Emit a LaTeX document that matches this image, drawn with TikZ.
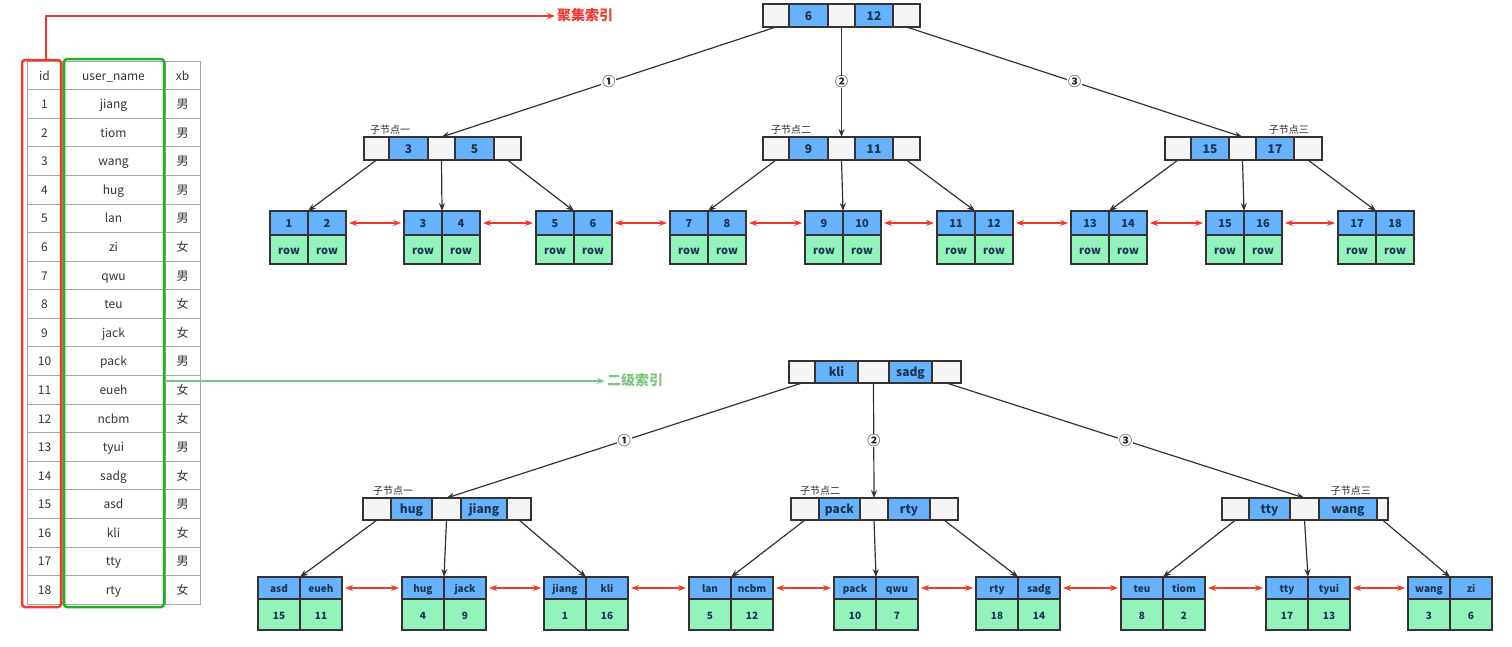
\documentclass[tikz,border=0pt]{standalone}
\usepackage{fontspec}
\setmainfont{Noto Sans CJK SC}
\usetikzlibrary{positioning,arrows.meta}

\definecolor{keyblue}{HTML}{66B2FF}
\definecolor{rowgreen}{HTML}{93F3BC}
\definecolor{gapgray}{HTML}{F5F5F5}
\definecolor{nodeline}{HTML}{333333}
\definecolor{cellink}{HTML}{1B3550}
\definecolor{clusred}{HTML}{EE3B2E}
\definecolor{secgreen}{HTML}{7CC77E}
\definecolor{framegreen}{HTML}{22B022}
\definecolor{tablegray}{HTML}{A6A6A6}

% inner node: name, pos, key1, key2, five cell widths
\newcommand\keynode[9]{%
  \node[gapcell,minimum width=#5,anchor=north west] (#1-a) at (#2) {};
  \node[keycell,minimum width=#6,right=0pt of #1-a] (#1-k1) {#3};
  \node[gapcell,minimum width=#7,right=0pt of #1-k1] (#1-b) {};
  \node[keycell,minimum width=#8,right=0pt of #1-b] (#1-k2) {#4};
  \node[gapcell,minimum width=#9,right=0pt of #1-k2] (#1-c) {};
}
% leaf node: name, pos, key1, key2, val1, val2, cell width
\newcommand\leafnode[7]{%
  \node[leafkey,minimum width=#7,anchor=north west] (#1-1) at (#2) {#3};
  \node[leafkey,minimum width=#7,right=0pt of #1-1] (#1-2) {#4};
  \node[leafval,minimum width=#7,below=0pt of #1-1] (#1-3) {#5};
  \node[leafval,minimum width=#7,below=0pt of #1-2] (#1-4) {#6};
}

\begin{document}
\begin{tikzpicture}[
    x=1pt,y=-1pt,
    >={Stealth[length=8pt,width=6pt]},
    every node/.style={text height=1em,text depth=0.05em},
    gapcell/.style={draw=nodeline,fill=gapgray,line width=1.1pt,
      minimum height=23,inner sep=0,outer sep=0},
    keycell/.style={gapcell,fill=keyblue,text=cellink,
      font=\bfseries\fontsize{12}{14}\selectfont},
    leafkey/.style={draw=nodeline,fill=keyblue,line width=1.1pt,
      minimum height=24,inner sep=0,outer sep=0,text=cellink,
      font=\bfseries\fontsize{11}{13}\selectfont},
    leafval/.style={leafkey,fill=rowgreen,minimum height=29},
    tcell/.style={draw=tablegray,line width=0.7pt,minimum height=28.58,
      inner sep=0,outer sep=0,text=black!80,
      font=\fontsize{12}{14}\selectfont},
    link/.style={->,draw=nodeline,line width=1.2pt},
    sib/.style={<->,draw=clusred,line width=1.2pt,
      shorten <=3pt,shorten >=3pt},
    num/.style={fill=white,inner sep=1pt,text=black!85,
      font=\bfseries\fontsize{13}{13}\selectfont},
    tag/.style={inner sep=0,text=black!85,font=\fontsize{10}{12}\selectfont},
    frame/.style={rounded corners=3pt,line width=2.5pt}
    ]
    \useasboundingbox (0,0) rectangle (1512,646);

    % table
    \foreach \i/\n/\s [count=\r from 0] in {id/user\_name/xb,
        1/jiang/男,2/tiom/男,3/wang/男,4/hug/男,5/lan/男,6/zi/女,
        7/qwu/男,8/teu/女,9/jack/女,10/pack/男,11/eueh/女,12/ncbm/女,
        13/tyui/男,14/sadg/女,15/asd/男,16/kli/女,17/tty/男,18/rty/女} {
      \node[tcell,minimum width=35] (id-\r) at (44.5,{75.3+28.58*\r}) {\i};
      \node[tcell,minimum width=103,right=0pt of id-\r] (nm-\r) {\n};
      \node[tcell,minimum width=35,right=0pt of nm-\r] (xb-\r) {\s};
    }
    \node[frame,draw=clusred,minimum width=39,minimum height=547]
      (idframe) at (41.5,333.5) {};
    \node[frame,draw=framegreen,minimum width=100,minimum height=548]
      (nmframe) at (114,333) {};

    \node[anchor=west,inner sep=0,text=clusred,
      font=\bfseries\fontsize{14}{16}\selectfont] (clus) at (557,16) {聚集索引};
    \node[anchor=west,inner sep=0,text=secgreen,
      font=\bfseries\fontsize{14}{16}\selectfont] (sec) at (607,381) {二级索引};
    \draw[->,draw=clusred,line width=2.4pt]
      ([xshift=4.5pt]idframe.north) |- ([xshift=-2pt]clus.west);
    \draw[->,draw=secgreen,line width=2.4pt]
      (nmframe.east |- sec.west) -- ([xshift=-2pt]sec.west);

    % clustered index tree
    \keynode{r}{763,4}{6}{12}{26}{39}{27}{38}{27}
    \keynode{t1}{364,137}{3}{5}{25}{39}{27}{39}{27}
    \keynode{t2}{763,137}{9}{11}{26}{39}{27}{38}{27}
    \keynode{t3}{1165,137}{15}{17}{26}{38}{27}{38}{28}
    \node[tag,anchor=south west] (t1-tag) at ([xshift=6pt,yshift=3pt]t1-a.north west) {子节点一};
    \node[tag,anchor=south west] (t2-tag) at ([xshift=8pt,yshift=3pt]t2-a.north west) {子节点二};
    \node[tag,anchor=south east] (t3-tag) at ([xshift=-13pt,yshift=3pt]t3-c.north east) {子节点三};

    \foreach \x [count=\k] in {270,404,536,670,805,937,1071,1206,1338} {
      \pgfmathtruncatemacro\lo{2*\k-1}
      \pgfmathtruncatemacro\hi{2*\k}
      \leafnode{a\k}{\x,211}{\lo}{\hi}{row}{row}{38}
    }

    \draw[link] (r-a.south) -- node[num] {①} (t1-b.north);
    \draw[link] (r-b.south) -- node[num] {②} (t2-b.north);
    \draw[link] (r-c.south) -- node[num] {③} (t3-b.north);
    \foreach \t/\p/\q/\s in {t1/a1/a2/a3,t2/a4/a5/a6,t3/a7/a8/a9} {
      \draw[link] (\t-a.south) -- (\p-1.north east);
      \draw[link] (\t-b.south) -- (\q-1.north east);
      \draw[link] (\t-c.south) -- (\s-1.north east);
    }
    \foreach \k [evaluate=\k as \n using int(\k+1)] in {1,...,8}
      \draw[sib] (a\k-2.east) -- (a\n-1.west);

    % secondary index tree
    \begin{scope}[
        gapcell/.append style={minimum height=22},
        leafkey/.append style={minimum height=22,
          font=\bfseries\fontsize{10}{12}\selectfont},
        leafval/.append style={minimum height=31}]
    \keynode{s}{789,361}{kli}{sadg}{26}{43}{31}{43}{29}
    \keynode{u1}{363,498}{hug}{jiang}{28}{41}{29}{46}{24}
    \keynode{u2}{791,498}{pack}{rty}{28}{41}{28}{42}{28}
    \keynode{u3}{1222,498}{tty}{wang}{27}{41}{29}{58}{11}
    \node[tag,anchor=south west] (u1-tag) at ([xshift=10pt,yshift=3pt]u1-a.north west) {子节点一};
    \node[tag,anchor=south west] (u2-tag) at ([xshift=9pt,yshift=3pt]u2-a.north west) {子节点二};
    \node[tag,anchor=south east] (u3-tag) at ([xshift=-17pt,yshift=3pt]u3-c.north east) {子节点三};

    \foreach \x/\p/\q/\v/\w [count=\k] in {258/asd/eueh/15/11,
        402/hug/jack/4/9,544/jiang/kli/1/16,689/lan/ncbm/5/12,
        834/pack/qwu/10/7,976/rty/sadg/18/14,1121/teu/tiom/8/2,
        1266/tty/tyui/17/13,1408/wang/zi/3/6} {
      \leafnode{b\k}{\x,577}{\p}{\q}{\v}{\w}{42}
    }

    \draw[link] (s-a.south) -- node[num] {①} (u1-b.north);
    \draw[link] (s-b.south) -- node[num] {②} (u2-b.north);
    \draw[link] (s-c.south) -- node[num] {③} (u3-b.north);
    \foreach \t/\p/\q/\s in {u1/b1/b2/b3,u2/b4/b5/b6,u3/b7/b8/b9} {
      \draw[link] (\t-a.south) -- (\p-1.north east);
      \draw[link] (\t-b.south) -- (\q-1.north east);
      \draw[link] (\t-c.south) -- (\s-1.north east);
    }
    \foreach \k [evaluate=\k as \n using int(\k+1)] in {1,...,8}
      \draw[sib] (b\k-2.east) -- (b\n-1.west);
    \end{scope}
\end{tikzpicture}
\end{document}
